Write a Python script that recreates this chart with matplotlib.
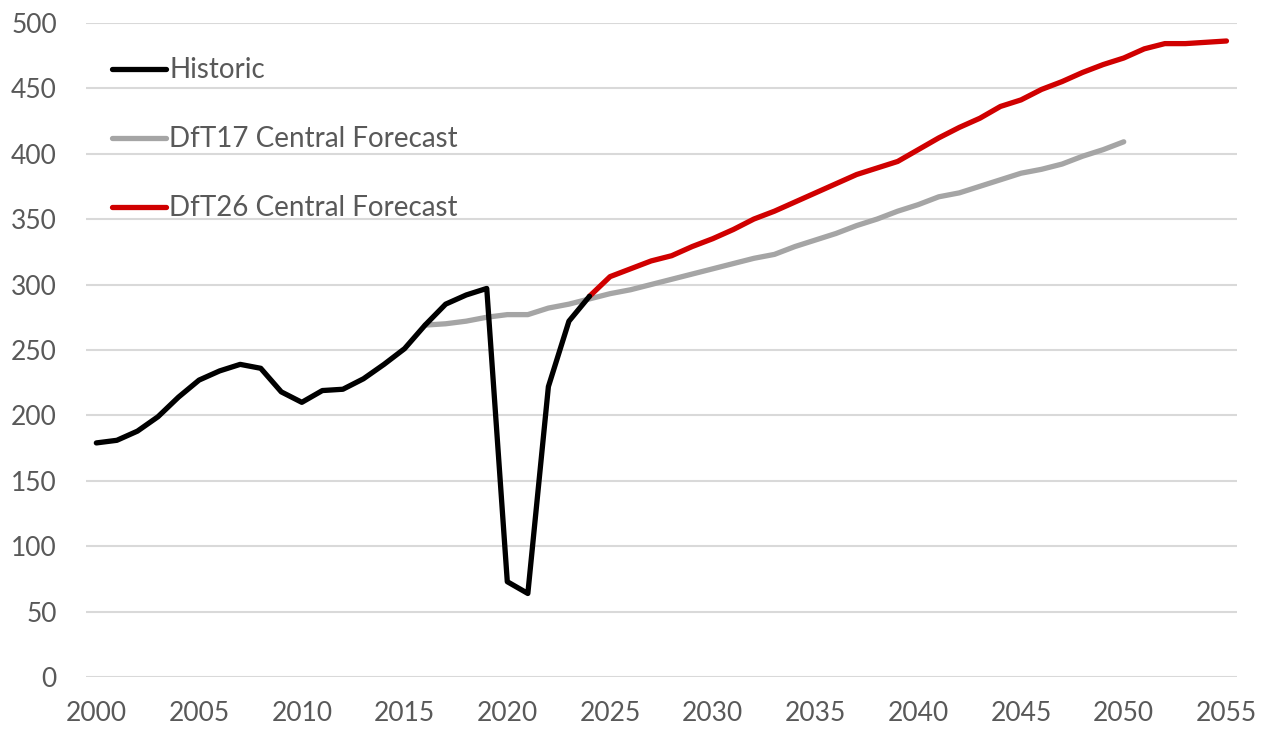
import matplotlib
matplotlib.use("Agg")
import matplotlib.pyplot as plt

# values
hist_years = list(range(2000, 2025))
hist_vals = [179, 181, 188, 199, 214, 227, 234, 239, 236, 218,
             210, 219, 220, 228, 239, 251, 269, 285, 292, 297,
             73, 64, 222, 272, 291]

dft17_years = list(range(2016, 2051))
dft17_vals = [269, 270, 272, 275, 277, 277, 282, 285, 289, 293,
              296, 300, 304, 308, 312, 316, 320, 323, 329, 334,
              339, 345, 350, 356, 361, 367, 370, 375, 380, 385,
              388, 392, 398, 403, 409]

dft26_years = list(range(2024, 2056))
dft26_vals = [291, 306, 312, 318, 322, 329, 335, 342, 350, 356,
              363, 370, 377, 384, 389, 394, 403, 412, 420, 427,
              436, 441, 449, 455, 462, 468, 473, 480, 484, 484,
              485, 486]

series_names = ["Historic", "DfT17 Central Forecast", "DfT26 Central Forecast"]
series_colors = ["#000000", "#a5a5a5", "#d00000"]

x_ticks = list(range(2000, 2056, 5))
y_ticks = list(range(0, 501, 50))

text_col = "#595959"
plt.rcParams['font.family'] = ['Lato', 'DejaVu Sans']

fig = plt.figure(figsize=(12.75, 7.31), dpi=100)
ax = fig.add_axes([0.0675, 0.0735, 0.9025, 0.8955])

ax.plot(dft17_years, dft17_vals, color=series_colors[1], lw=3.8, label=series_names[1],
        solid_capstyle="round", solid_joinstyle="round")
ax.plot(dft26_years, dft26_vals, color=series_colors[2], lw=3.8, label=series_names[2],
        solid_capstyle="round", solid_joinstyle="round", zorder=3)
ax.plot(hist_years, hist_vals, color=series_colors[0], lw=3.8, label=series_names[0],
        solid_capstyle="round", solid_joinstyle="round", zorder=4)

ax.set_xlim(1999.5, 2055.5)
ax.set_ylim(0, 500)
ax.set_xticks(x_ticks)
ax.set_yticks(y_ticks)
ax.grid(axis="y", color="#d9d9d9", lw=1.5)
ax.set_axisbelow(True)
for s in ax.spines.values():
    s.set_visible(False)
ax.tick_params(axis="both", length=0, colors=text_col, labelsize=19)
ax.tick_params(axis="y", pad=21)
ax.tick_params(axis="x", pad=17)

handles, labels = ax.get_legend_handles_labels()
order = [2, 0, 1]
leg = ax.legend([handles[i] for i in order], [labels[i] for i in order],
                loc="upper left", bbox_to_anchor=(0.013, 0.964), frameon=False,
                fontsize=20, handlelength=1.95, handletextpad=0.1,
                labelspacing=1.55, borderaxespad=0)
for t in leg.get_texts():
    t.set_color(text_col)

fig.savefig("out.png", dpi=100)
